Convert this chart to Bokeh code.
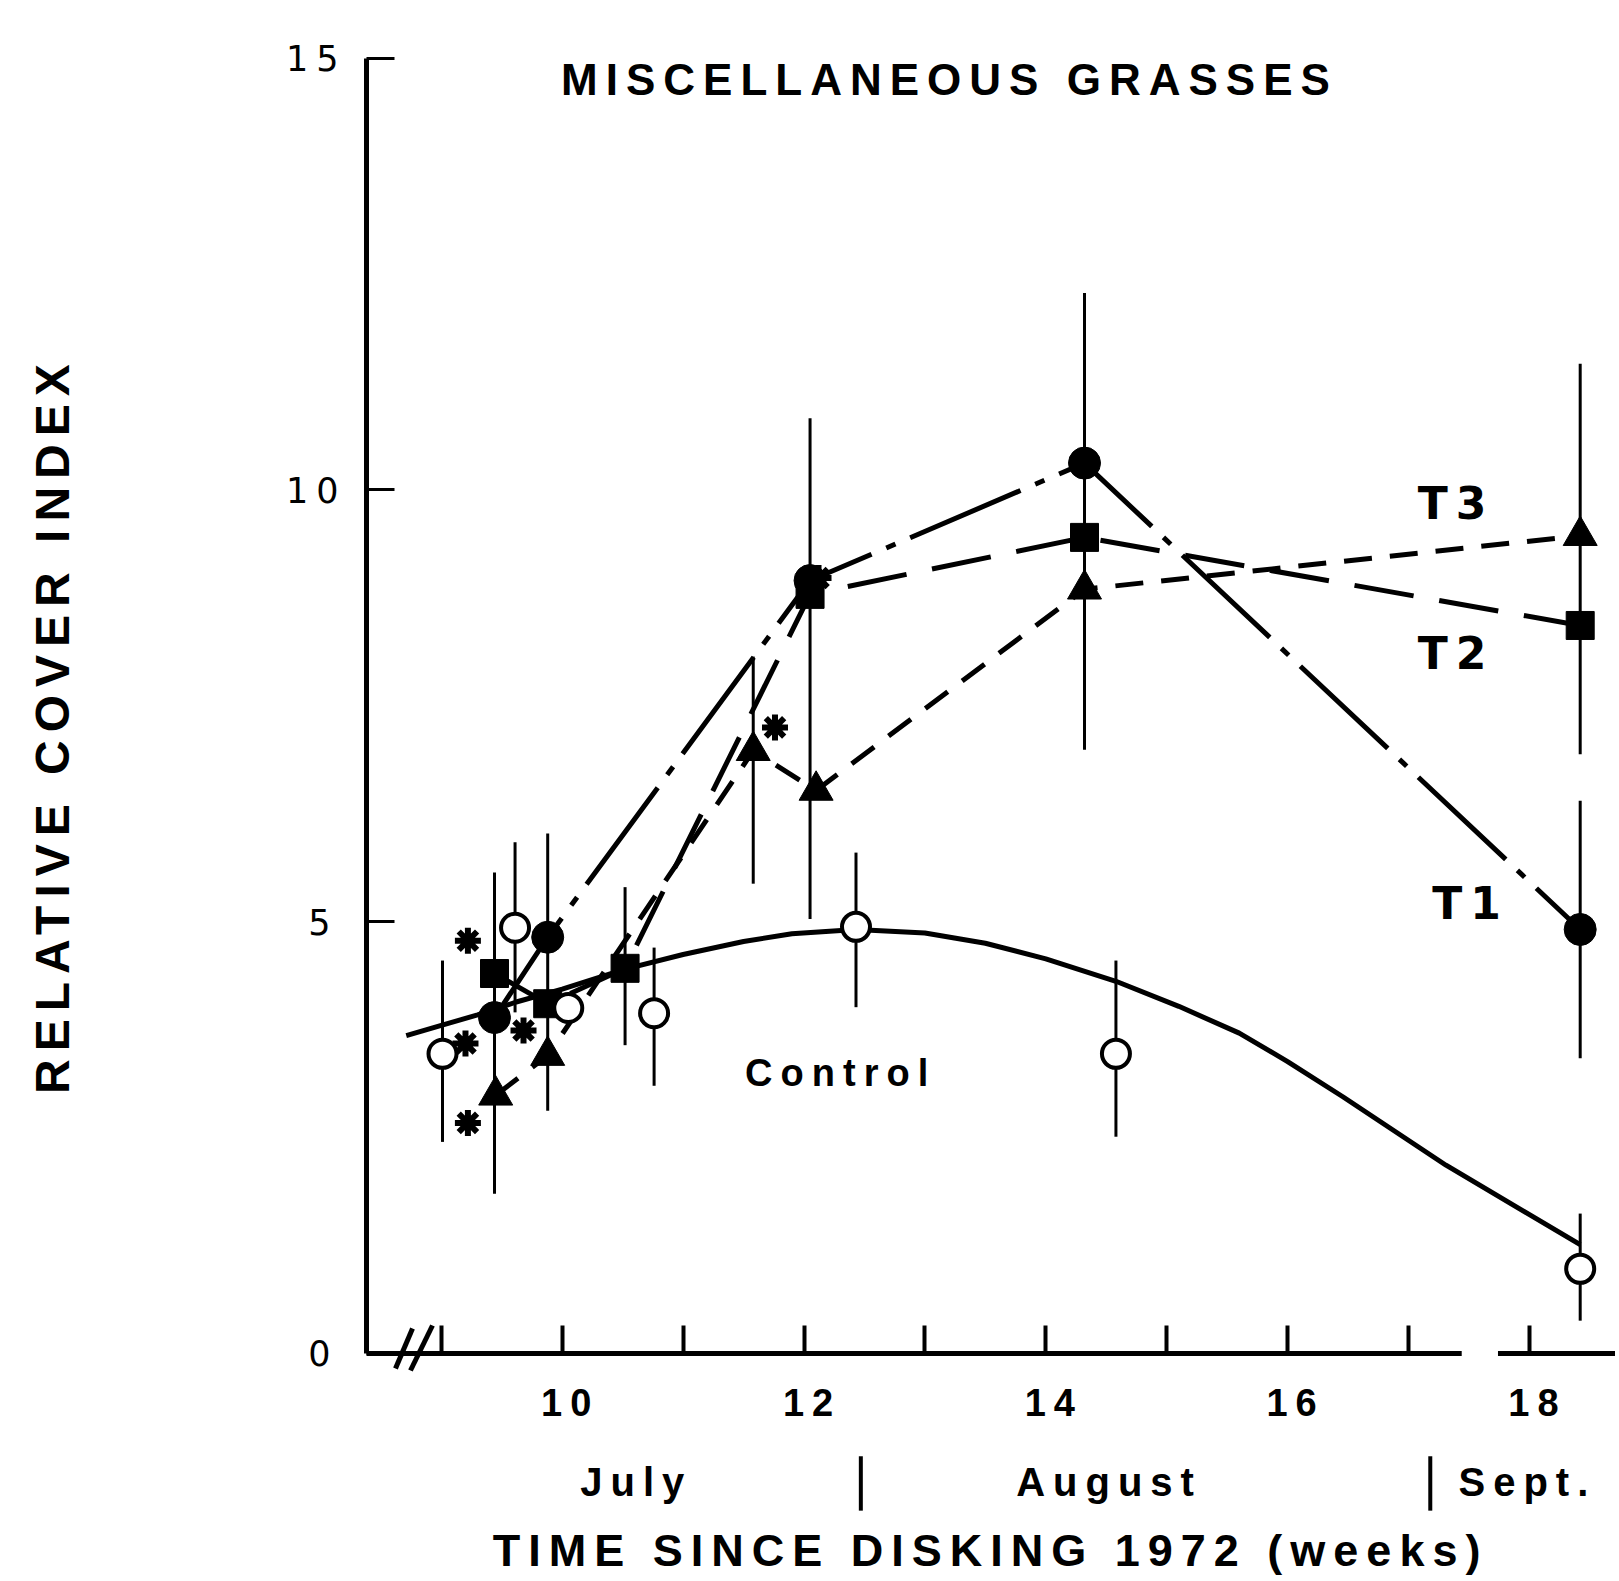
import math
from bokeh.plotting import figure
from bokeh.models import Range1d, FixedTicker, Label, Arrow, LinearAxis
from bokeh.embed import file_html
from bokeh.resources import INLINE

# ---------------- data ----------------
control_weeks = [9.01, 9.61, 10.05, 10.76, 12.43, 14.58, 18.42]
control_vals = [3.47, 4.93, 4.00, 3.94, 4.94, 3.47, 0.98]

control_curve_weeks = [8.71, 9.00, 9.30, 9.62, 10.00, 10.52, 11.00, 11.50, 11.90, 12.43,
                       13.00, 13.50, 14.00, 14.58, 15.10, 15.60, 16.00, 16.46, 17.31, 18.42]
control_curve_vals = [3.68, 3.80, 3.92, 4.07, 4.22, 4.45, 4.62, 4.77, 4.86, 4.91,
                      4.87, 4.75, 4.57, 4.31, 4.02, 3.71, 3.38, 2.97, 2.18, 1.26]

t1_weeks = [9.44, 9.88, 12.05, 14.32, 18.42]
t1_vals = [3.89, 4.82, 8.95, 10.31, 4.91]

t2_weeks = [9.44, 9.88, 10.52, 12.05, 14.32, 18.42]
t2_vals = [4.40, 4.05, 4.46, 8.79, 9.45, 8.43]

t3_weeks = [9.45, 9.88, 11.58, 12.10, 14.32, 18.42]
t3_vals = [2.99, 3.45, 6.98, 6.52, 8.85, 9.47]

err_weeks = [9.01, 9.44, 9.61, 9.88, 10.52, 10.76, 11.58, 12.05, 12.43, 14.32, 14.58, 18.42, 18.42, 18.42]
err_low = [2.45, 1.85, 3.95, 2.81, 3.57, 3.10, 5.44, 5.03, 4.01, 6.99, 2.51, 6.94, 3.42, 0.38]
err_high = [4.55, 5.57, 5.92, 6.02, 5.40, 4.70, 8.07, 10.83, 5.80, 12.28, 4.55, 11.46, 6.40, 1.62]

star_weeks = [9.22, 9.20, 9.68, 9.22, 11.76, 12.12]
star_vals = [4.78, 3.59, 3.74, 2.67, 7.25, 8.98]

major_weeks = [10, 12, 14, 16, 18]
minor_weeks = [9, 11, 13, 15, 17]
y_ticks = [0, 5, 10, 15]

months = ["July", "August", "Sept."]
month_centers = [10.58, 14.49, 17.95]
month_bounds = [12.47, 17.18]

title_text = "MISCELLANEOUS GRASSES"
x_title = "TIME SINCE DISKING 1972 (weeks)"
y_title = "RELATIVE COVER INDEX"

LS = 8  # letter spacing in px

X0, X1 = 8.381, 18.712   # extent of the drawn x axis (weeks)

# ---------------- figure (frame covers the whole canvas) ----------------
p = figure(width=1615, height=1577,
           x_range=Range1d(5.354, 18.712), y_range=Range1d(-2.594, 15.667),
           x_axis_type=None, y_axis_type=None,
           output_backend="svg", toolbar_location=None,
           min_border=0, min_border_left=0, min_border_right=0,
           min_border_top=0, min_border_bottom=0)
p.outline_line_color = None
p.background_fill_color = "white"
p.border_fill_color = "white"
p.styles = {"letter-spacing": f"{LS}px"}

xaxis = LinearAxis(ticker=FixedTicker(ticks=major_weeks, minor_ticks=minor_weeks),
                   fixed_location=0, bounds=(X0, X1))
xaxis.axis_line_width = 5
xaxis.axis_line_color = "black"
xaxis.major_tick_in = 28
xaxis.major_tick_out = 0
xaxis.minor_tick_in = 28
xaxis.minor_tick_out = 0
xaxis.major_tick_line_width = 4
xaxis.minor_tick_line_width = 4
xaxis.major_label_text_font = "Liberation Sans"
xaxis.major_label_text_font_style = "bold"
xaxis.major_label_text_font_size = "38px"
xaxis.major_label_text_color = "black"
xaxis.major_label_standoff = 36
p.add_layout(xaxis, "below")

yaxis = LinearAxis(ticker=FixedTicker(ticks=y_ticks), fixed_location=X0, bounds=(0, 15))
yaxis.axis_line_width = 5
yaxis.axis_line_color = "black"
yaxis.major_tick_in = 28
yaxis.major_tick_out = 0
yaxis.minor_tick_in = 0
yaxis.minor_tick_out = 0
yaxis.major_tick_line_width = 3
yaxis.major_label_text_font = "DejaVu Sans"
yaxis.major_label_text_font_size = "35px"
yaxis.major_label_text_color = "black"
yaxis.major_label_standoff = 28 + LS
p.add_layout(yaxis, "left")

# error bars
p.segment(x0=err_weeks, y0=err_low, x1=err_weeks, y1=err_high, line_color="black", line_width=3)

# lines
p.line(control_curve_weeks, control_curve_vals, line_color="black", line_width=5)
p.line(t1_weeks, t1_vals, line_color="black", line_width=5, line_dash="120 16 10 16")
p.line(t2_weeks, t2_vals, line_color="black", line_width=5, line_dash="60 26")
p.line(t3_weeks, t3_vals, line_color="black", line_width=5, line_dash="28 18")

# markers
p.scatter(star_weeks, star_vals, marker="asterisk", size=26, line_color="black", line_width=6)
p.scatter(t3_weeks, t3_vals, marker="triangle", size=34, fill_color="black", line_color="black")
p.scatter(t2_weeks, t2_vals, marker="square", size=28, fill_color="black", line_color="black")
p.scatter(t1_weeks, t1_vals, marker="circle", size=32, fill_color="black", line_color="black")
p.scatter(control_weeks, control_vals, marker="circle", size=28, fill_color="white",
          line_color="black", line_width=4)


def add_label(text, x, y, size, font="DejaVu Sans", style="normal", angle=0.0, dx=0.0, dy=0.0):
    comp = -(len(text) - 1) * LS / 2.0
    if angle == 0:
        xo, yo = dx + comp, dy
    else:
        xo, yo = dx, dy + comp
    p.add_layout(Label(x=x, y=y, text=text, angle=angle, x_offset=xo, y_offset=yo,
                       text_font=font, text_font_size=f"{size}px", text_font_style=style,
                       text_align="center", text_baseline="middle", text_color="black"))


add_label(title_text, 13.17, 14.75, 44, font="Liberation Sans", style="bold")
add_label("T3", 17.36, 9.84, 44, style="bold")
add_label("T2", 17.36, 8.11, 44, style="bold")
add_label("T1", 17.48, 5.21, 44, style="bold")
add_label("Control", 12.27, 3.25, 38, font="Liberation Sans", style="bold")
add_label(y_title, 5.784, 7.23, 48, font="Liberation Sans", style="bold", angle=math.pi / 2)
add_label(x_title, 13.51, -2.28, 45, font="Liberation Sans", style="bold")
for m, c in zip(months, month_centers):
    add_label(m, c, -1.49, 40, font="Liberation Sans", style="bold")

for b in month_bounds:
    p.add_layout(Arrow(end=None, x_start=b, y_start=-1.19, x_end=b, y_end=-1.82,
                       line_color="black", line_width=4))

# axis break marks and gap
p.add_layout(Arrow(end=None, x_start=8.621, y_start=-0.174, x_end=8.762, y_end=0.289,
                   line_color="black", line_width=5))
p.add_layout(Arrow(end=None, x_start=8.745, y_start=-0.197, x_end=8.927, y_end=0.324,
                   line_color="black", line_width=5))
p.add_layout(Arrow(end=None, x_start=17.44, y_start=0, x_end=17.74, y_end=0,
                   line_color="white", line_width=14))

open("out.html", "w").write(file_html(p, INLINE))
